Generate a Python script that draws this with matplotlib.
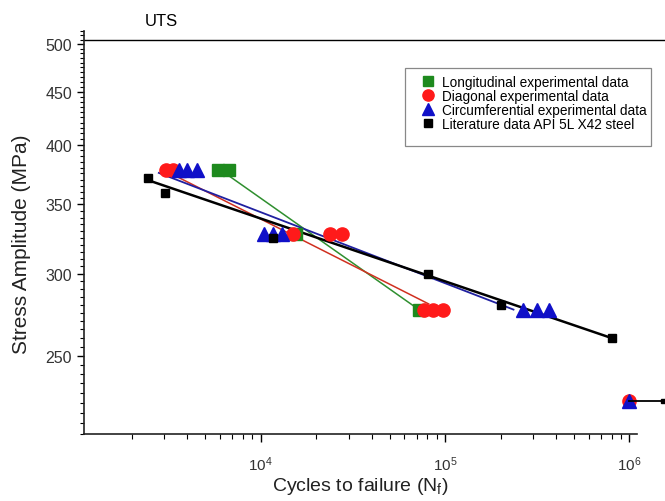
import numpy as np
import matplotlib
matplotlib.use("Agg")
import matplotlib.pyplot as plt
from matplotlib.patches import Rectangle
from matplotlib.ticker import FixedLocator, FixedFormatter, NullFormatter, LogLocator, LogFormatterSciNotation

plt.rcParams['font.family'] = ['Liberation Sans', 'DejaVu Sans']

# Longitudinal experimental data
long_N = [5900, 6700, 15500, 72000]
long_S = [378, 378, 328, 277]
long_fit_N = [6450, 70000]
long_fit_S = [375, 278]

# Diagonal experimental data
diag_N = [3050, 3350, 15000, 23900, 27700, 76500, 86500, 98000, 1.0e6]
diag_S = [378, 378, 328, 328, 328, 277, 277, 277, 226]
diag_fit_N = [3250, 81500]
diag_fit_S = [375, 280.5]

# Circumferential experimental data
circ_N = [3600, 4000, 4500, 10400, 11700, 13100, 2.64e5, 3.16e5, 3.68e5, 1.0e6]
circ_S = [378, 378, 378, 328, 328, 328, 277, 277, 277, 226]
circ_fit_N = [2800, 2.35e5]
circ_fit_S = [375.5, 277]

# Literature data API 5L X42 steel
lit_N = [2450, 3030, 11600, 80400, 2.0e5, 8.0e5]
lit_S = [371, 359, 325, 300, 280, 260]
lit_fit_N = [2500, 8.0e5]
lit_fit_S = [369, 260]

# run-out arrow at 10^6 cycles
runout_N = [1.0e6, 1.53e6]
runout_S = [226, 226]

uts = 505

y_ticks = [250, 300, 350, 400, 450, 500]

fig = plt.figure(figsize=(6.65, 5.02), dpi=100)
ax = fig.add_axes([0.1263, 0.1335, 0.8317, 0.8028])

green = '#1e8a1e'
red = '#ff1a1a'
blue = '#1010c8'

# fit lines
ax.plot(long_fit_N, long_fit_S, color='#2f8f2f', lw=1.1)
ax.plot(diag_fit_N, diag_fit_S, color='#d03020', lw=1.1)
ax.plot(circ_fit_N, circ_fit_S, color='#2020a0', lw=1.3)
ax.plot(lit_fit_N, lit_fit_S, color='black', lw=1.8)

# points
ax.plot(long_N, long_S, 's', color=green, ms=9, mec=green, ls='none',
        label='Longitudinal experimental data')
ax.plot(diag_N, diag_S, 'o', color=red, ms=9.5, mec=red, ls='none',
        label='Diagonal experimental data')
ax.plot(circ_N, circ_S, '^', color=blue, ms=10, mec=blue, ls='none',
        label='Circumferential experimental data')
ax.plot(lit_N, lit_S, 's', color='black', ms=6, ls='none',
        label='Literature data API 5L X42 steel')

ax.plot(runout_N, runout_S, color='black', lw=1.3, clip_on=False)
ax.plot(runout_N[-1:], runout_S[-1:], 's', color='black', ms=3.5, clip_on=False)

# UTS line
ax.axhline(uts, xmin=0, xmax=1.06, color='black', lw=1.0, clip_on=False)
ax.text(0.139, 1.027, 'UTS', transform=ax.transAxes, ha='center', va='center',
        fontsize=12)

ax.set_xscale('log')
ax.set_yscale('log')
ax.set_xlim(1100, 1.1e6)
ax.set_ylim(210, 515)

ax.yaxis.set_major_locator(FixedLocator(y_ticks))
ax.yaxis.set_major_formatter(FixedFormatter([str(v) for v in y_ticks]))
ax.yaxis.set_minor_locator(FixedLocator(np.arange(210, 516, 5)))
ax.yaxis.set_minor_formatter(NullFormatter())

ax.xaxis.set_major_locator(LogLocator(base=10, numticks=10))
ax.xaxis.set_major_formatter(LogFormatterSciNotation())
ax.xaxis.set_minor_locator(LogLocator(base=10, subs=np.arange(2, 10), numticks=20))
ax.xaxis.set_minor_formatter(NullFormatter())

ax.spines['top'].set_visible(False)
ax.spines['right'].set_visible(False)
for s in ['left', 'bottom']:
    ax.spines[s].set_linewidth(1.2)
    ax.spines[s].set_color('#222222')

ax.tick_params(axis='y', which='major', direction='out', length=5, width=1,
               labelsize=11.5, labelcolor='#333333')
ax.tick_params(axis='y', which='minor', direction='out', length=3, width=0.8)
ax.tick_params(axis='x', which='major', direction='out', length=6, width=1,
               labelsize=11, labelcolor='#333333', pad=9)
ax.tick_params(axis='x', which='minor', direction='out', length=3.5, width=0.8)

ax.set_xlabel(r'Cycles to failure (N$_\mathregular{f}$)', fontsize=14,
              color='#222222', labelpad=1)
ax.set_ylabel('Stress Amplitude (MPa)', fontsize=15, color='#222222')
ax.yaxis.set_label_coords(-0.096, 0.473)

# legend, with its frame drawn separately
leg = ax.legend(loc='upper left', bbox_to_anchor=(0.6100, 0.8905), borderaxespad=0,
                fontsize=9.8, frameon=False, borderpad=0,
                handletextpad=0.5, labelspacing=0.0,
                markerscale=0.85, handlelength=1.0)
ax.add_patch(Rectangle((0.5805, 0.7146), 0.4448, 0.1934, transform=ax.transAxes,
                       fill=False, edgecolor='#888888', lw=0.9, clip_on=False))

plt.savefig('out.png', dpi=100)
